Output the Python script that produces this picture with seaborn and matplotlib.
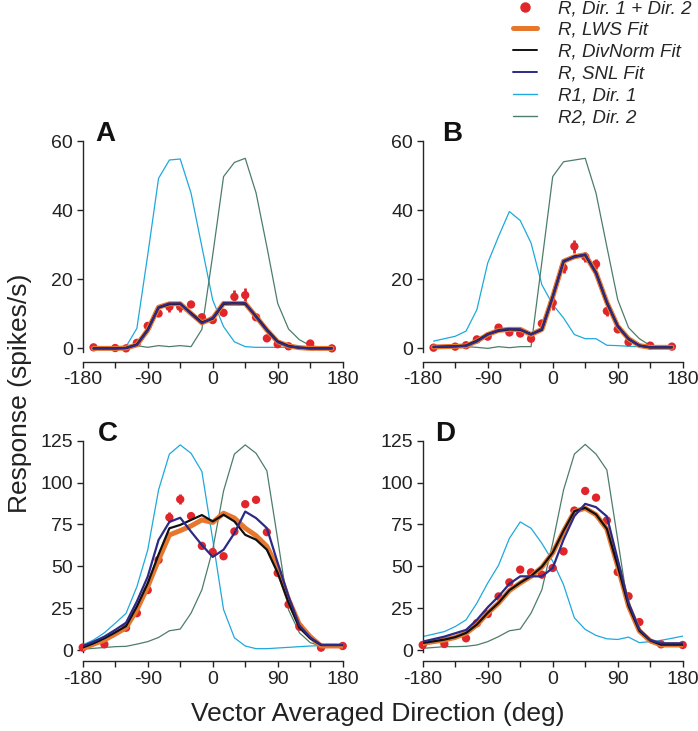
import numpy as np
import pandas as pd
import matplotlib
matplotlib.use("Agg")
import matplotlib.pyplot as plt
import seaborn as sns
from matplotlib.lines import Line2D

nan = np.nan

# ---------------- data ----------------
x_ab = [-165, -150, -135, -120, -105, -90, -75, -60, -45, -30, -15, 0, 15, 30, 45, 60, 75, 90, 105, 120, 135, 150, 165]
x_cd = [-180, -165, -150, -135, -120, -105, -90, -75, -60, -45, -30, -15, 0, 15, 30, 45, 60, 75, 90, 105, 120, 135, 150, 165, 180]

# Panel A
a_r1 = [0.3, 0.3, 0.3, 0.5, 5.8, 27, 49.2, 54.5, 54.8, 44.9, 29.4, 14, 6.3, 1.9, 0.5, 0.3, 0.3, 0.3, 0.3, 0.3, 0.3, 0.3, 0.3]
a_r2 = [0.3, 0.3, 0.3, 0.3, 0.8, 0.3, 0.8, 0.5, 0.8, 0.5, 5.5, 27, 49.7, 53.8, 55, 45, 29.4, 13, 5.6, 2.5, 0.8, 0.3, 0.3]
a_resp = [0.3, nan, 0.1, 0.0, 1.6, 6.5, 10.1, 12.0, 12.0, 12.7, 9.0, 8.2, 10.3, 14.9, 15.4, 9.0, 2.9, 1.2, 0.6, nan, 1.4, nan, 0.0]
a_err = [0, 0, 0, 0, 0, 0, 0, 1.5, 1.5, 0, 0, 0, 0, 2.0, 2.0, 0, 0, 0, 0, 0, 0, 0, 0]
a_lws = [0.0, 0.0, 0.0, 0.1, 1.0, 5.3, 11.9, 12.9, 12.9, 10.1, 7.4, 8.7, 13.0, 13.0, 13.0, 9.2, 5.3, 1.9, 0.7, 0.2, 0.0, 0.0, 0.0]
a_div = [0.0, 0.0, 0.0, 0.1, 1.1, 5.4, 11.8, 12.8, 12.9, 10.2, 7.5, 8.6, 12.9, 13.1, 12.9, 9.3, 5.4, 2.0, 0.7, 0.2, 0.0, 0.0, 0.0]
a_snl = [0.0, 0.0, 0.0, 0.1, 1.0, 5.2, 11.9, 13.0, 13.0, 10.0, 7.3, 8.8, 13.1, 13.0, 13.1, 9.1, 5.2, 1.8, 0.6, 0.2, 0.0, 0.0, 0.0]

# Panel B
b_r1 = [2.1, 2.8, 3.5, 5.0, 11.2, 24.7, 32.4, 39.6, 37.0, 30.5, 18.4, 12.7, 8.8, 4.0, 2.8, 2.8, 0.9, 0.8, 0.6, 0.5, 0.4, 0.3, 0.3]
b_r2 = [0.3, 0.3, 0.3, 0.5, 0.3, 0.0, 0.5, 0.2, 0.5, 0.5, 25, 49.7, 54, 54.5, 55, 44.9, 29.4, 14.1, 6.0, 2.8, 0.8, 0.3, 0.3]
b_resp = [0.2, nan, 0.5, 0.9, 2.6, 3.4, 6.0, 4.6, 4.3, 2.8, 7.2, 13.2, 23.3, 29.5, 26.5, 24.4, 10.8, 5.5, 1.8, nan, 0.8, nan, 0.5]
b_err = [0, 0, 0, 0, 0, 0, 0, 0, 0, 0, 0.5, 2.0, 1.5, 2.0, 1.5, 1.5, 1.5, 0.8, 0, 0, 0, 0, 0]
b_lws = [0.4, 0.5, 0.6, 0.7, 2.1, 4.0, 5.2, 5.5, 5.5, 4.0, 5.5, 14.9, 25.2, 26.5, 27.1, 21.8, 13.3, 6.4, 2.8, 0.8, 0.3, 0.3, 0.3]
b_div = [0.4, 0.5, 0.6, 0.8, 2.2, 4.1, 5.1, 5.5, 5.4, 4.1, 5.4, 15.0, 25.1, 26.6, 27.0, 21.9, 13.2, 6.5, 2.7, 0.8, 0.3, 0.3, 0.3]
b_snl = [0.4, 0.5, 0.6, 0.7, 2.0, 4.0, 5.3, 5.6, 5.5, 4.0, 5.6, 14.8, 25.3, 26.4, 27.2, 21.7, 13.4, 6.3, 2.8, 0.8, 0.3, 0.3, 0.3]

# Panel C
c_r1 = [3, 6, 10.3, 16, 21.9, 37.8, 59.7, 95.6, 117, 122.5, 117.5, 106.6, 66, 24.2, 7.3, 2.4, 0.8, 0.8, 1.2, 1.6, 2.0, 2.4, 2.6, 2.8, 2.8]
c_r2 = [0.5, 1, 1.5, 2, 2.2, 3.5, 5, 7.5, 11.5, 12.5, 22, 36, 60, 95, 117, 122.5, 117.5, 107, 66, 24, 10.3, 4.4, 2.4, 2.4, 2.4]
c_resp = [1.5, nan, 3.4, nan, 13.3, 22, 35.8, 53.8, 79.2, 90, 80, 62.2, 58.5, 56, 70.8, 87.1, 89.7, 70.4, 46, 27.2, 13.9, nan, 1.4, nan, 2.4]
c_err = [0, 0, 0, 0, 0, 0, 1.0, 0, 3.0, 3.0, 0, 0, 0, 0, 0, 0, 0, 0, 0, 0, 0, 0, 0, 0, 0]
c_lws = [1, 3.5, 6, 9.5, 13.3, 24, 37.8, 53.8, 68.7, 71.3, 74.1, 77.7, 76.2, 81.7, 78.8, 72.8, 68.3, 61.9, 49, 30.2, 15.3, 8, 2.4, 2.4, 2.4]
c_div = [1.5, 4, 7, 10.5, 14.3, 26, 39.8, 57, 72.7, 74.7, 77.7, 80.6, 76.8, 80.8, 76.8, 68.8, 65.9, 59.9, 46, 28.2, 13.3, 7, 3, 3, 3]
c_snl = [2.3, 5, 8, 12, 16.3, 29, 43.8, 65.7, 76.5, 79, 70.7, 62.7, 55.6, 59.9, 69.8, 82.7, 78.8, 72.8, 52, 32, 14.7, 7.5, 3, 3, 3]

# Panel D
d_r1 = [8, 9.5, 11, 14, 18, 28, 40, 50.6, 66.7, 76.5, 72.7, 63.7, 53, 39, 19.2, 12.3, 8.7, 6.7, 6.3, 7.7, 4.4, 5, 5.8, 7, 8.3]
d_r2 = [1, 1.5, 2, 2, 2.2, 3, 5, 8, 11.5, 12.5, 22, 36, 63.9, 95.6, 117, 122.8, 117, 107.5, 65.9, 24.2, 10.3, 4.4, 2.4, 2.4, 2.4]
d_resp = [3, nan, 3.6, nan, 7, 16, 21.5, 32, 40.4, 48, 46.4, 45, 49, 58.9, 83.3, 95, 91, 77.4, 46.6, 32.1, 16.7, nan, 3.4, nan, 3]
d_err = [0] * 25
d_lws = [4, 5, 6, 7.5, 10, 15, 22, 28, 35.5, 40, 44, 49.5, 58, 71, 82.7, 84.7, 80.8, 72.2, 50, 26.2, 11.3, 5.5, 3, 3, 3]
d_div = [4.2, 5.2, 6.2, 7.7, 10.2, 15.2, 22.2, 28.2, 35.7, 40.2, 44.2, 49.7, 58.2, 71.2, 82.9, 84.9, 81, 72.4, 50.2, 26.4, 11.5, 5.7, 3.2, 3.2, 3.2]
d_snl = [5, 6.5, 8, 10, 12, 18, 25.5, 32, 39.5, 44, 44, 44, 49, 66, 80, 87.3, 85.3, 79.8, 54, 28.2, 12.3, 6, 4, 4, 4]

legend_labels = ["R, Dir. 1 + Dir. 2", "R, LWS Fit", "R, DivNorm Fit", "R, SNL Fit", "R1, Dir. 1", "R2, Dir. 2"]
panel_letters = ["A", "B", "C", "D"]
x_ticks = [-180, -135, -90, -45, 0, 45, 90, 135, 180]
x_ticklabels = ["-180", "", "-90", "", "0", "", "90", "", "180"]
yticks_top = [0, 20, 40, 60]
yticks_bot = [0, 25, 50, 75, 100, 125]

# ---------------- style ----------------
sns.set_style("ticks")
plt.rcParams["font.family"] = ["Liberation Sans", "DejaVu Sans"]
plt.rcParams["axes.linewidth"] = 1.0

C_RED = "#e0262b"
C_ORANGE = "#e8772e"
C_BLACK = "#111111"
C_NAVY = "#2c2a86"
C_CYAN = "#1fa8dc"
C_GREEN = "#4d7d68"

fig = plt.figure(figsize=(6.98, 7.31), dpi=100)

positions = [
    [0.1185, 0.5187, 0.3725, 0.2884],
    [0.6056, 0.5187, 0.3725, 0.2884],
    [0.1185, 0.1085, 0.3725, 0.2886],
    [0.6056, 0.1085, 0.3725, 0.2886],
]
letter_x = [0.05, 0.073, 0.06, 0.047]

panels = [
    (x_ab, a_r1, a_r2, a_resp, a_err, a_lws, a_div, a_snl),
    (x_ab, b_r1, b_r2, b_resp, b_err, b_lws, b_div, b_snl),
    (x_cd, c_r1, c_r2, c_resp, c_err, c_lws, c_div, c_snl),
    (x_cd, d_r1, d_r2, d_resp, d_err, d_lws, d_div, d_snl),
]

for i, (xs, r1, r2, resp, err, lws, div, snl) in enumerate(panels):
    ax = fig.add_axes(positions[i])
    df = pd.DataFrame({"x": xs, "r1": r1, "r2": r2, "resp": resp, "err": err,
                       "lws": lws, "div": div, "snl": snl})
    sns.lineplot(data=df, x="x", y="r1", ax=ax, color=C_CYAN, lw=0.9, zorder=2)
    sns.lineplot(data=df, x="x", y="r2", ax=ax, color=C_GREEN, lw=0.9, zorder=2)
    dd = df.dropna(subset=["resp"])
    de = dd[dd["err"] > 0]
    ax.errorbar(de["x"], de["resp"], yerr=de["err"], fmt="none", ecolor=C_RED,
                elinewidth=2.0, capsize=0, zorder=3)
    sns.scatterplot(data=dd, x="x", y="resp", ax=ax, color=C_RED, s=36,
                    edgecolor="none", zorder=3, clip_on=False)
    sns.lineplot(data=df, x="x", y="lws", ax=ax, color=C_ORANGE, lw=3.6, zorder=4)
    sns.lineplot(data=df, x="x", y="div", ax=ax, color=C_BLACK, lw=1.6, zorder=5)
    sns.lineplot(data=df, x="x", y="snl", ax=ax, color=C_NAVY, lw=1.6, zorder=6)

    ax.set_xlim(-180, 180)
    if i < 2:
        ax.set_ylim(-1, 60)
        ax.set_yticks(yticks_top)
    else:
        ax.set_ylim(-1, 125)
        ax.set_yticks(yticks_bot)
    ax.set_xticks(x_ticks)
    ax.set_xticklabels(x_ticklabels)
    ax.set_xlabel("")
    ax.set_ylabel("")
    sns.despine(ax=ax)
    ax.spines["bottom"].set_position(("outward", 7))
    ax.tick_params(axis="both", labelsize=14, length=4, width=1.0, pad=3,
                   colors="#222222")
    ax.text(letter_x[i], 1.0, panel_letters[i], transform=ax.transAxes,
            fontsize=20, fontweight="bold", ha="left", va="baseline", color="#111111")

fig.text(0.5415, 0.0135, "Vector Averaged Direction (deg)", ha="center", va="baseline",
         fontsize=19, color="#222222")
fig.text(0.012, 0.4624, "Response (spikes/s)", ha="left", va="center", rotation=90,
         fontsize=19, color="#222222")

handles = [
    Line2D([], [], ls="none", marker="o", color=C_RED, markersize=6.5),
    Line2D([], [], color=C_ORANGE, lw=3.6),
    Line2D([], [], color=C_BLACK, lw=1.4),
    Line2D([], [], color=C_NAVY, lw=1.4),
    Line2D([], [], color=C_CYAN, lw=1.0),
    Line2D([], [], color=C_GREEN, lw=1.0),
]
fig.legend(handles, legend_labels, loc="upper left", bbox_to_anchor=(0.735, 1.0),
           frameon=False, prop={"style": "italic", "size": 13.5},
           handlelength=1.3, handletextpad=1.1, labelspacing=0.25,
           borderaxespad=0, borderpad=0)

fig.savefig("out.png", dpi=100)
